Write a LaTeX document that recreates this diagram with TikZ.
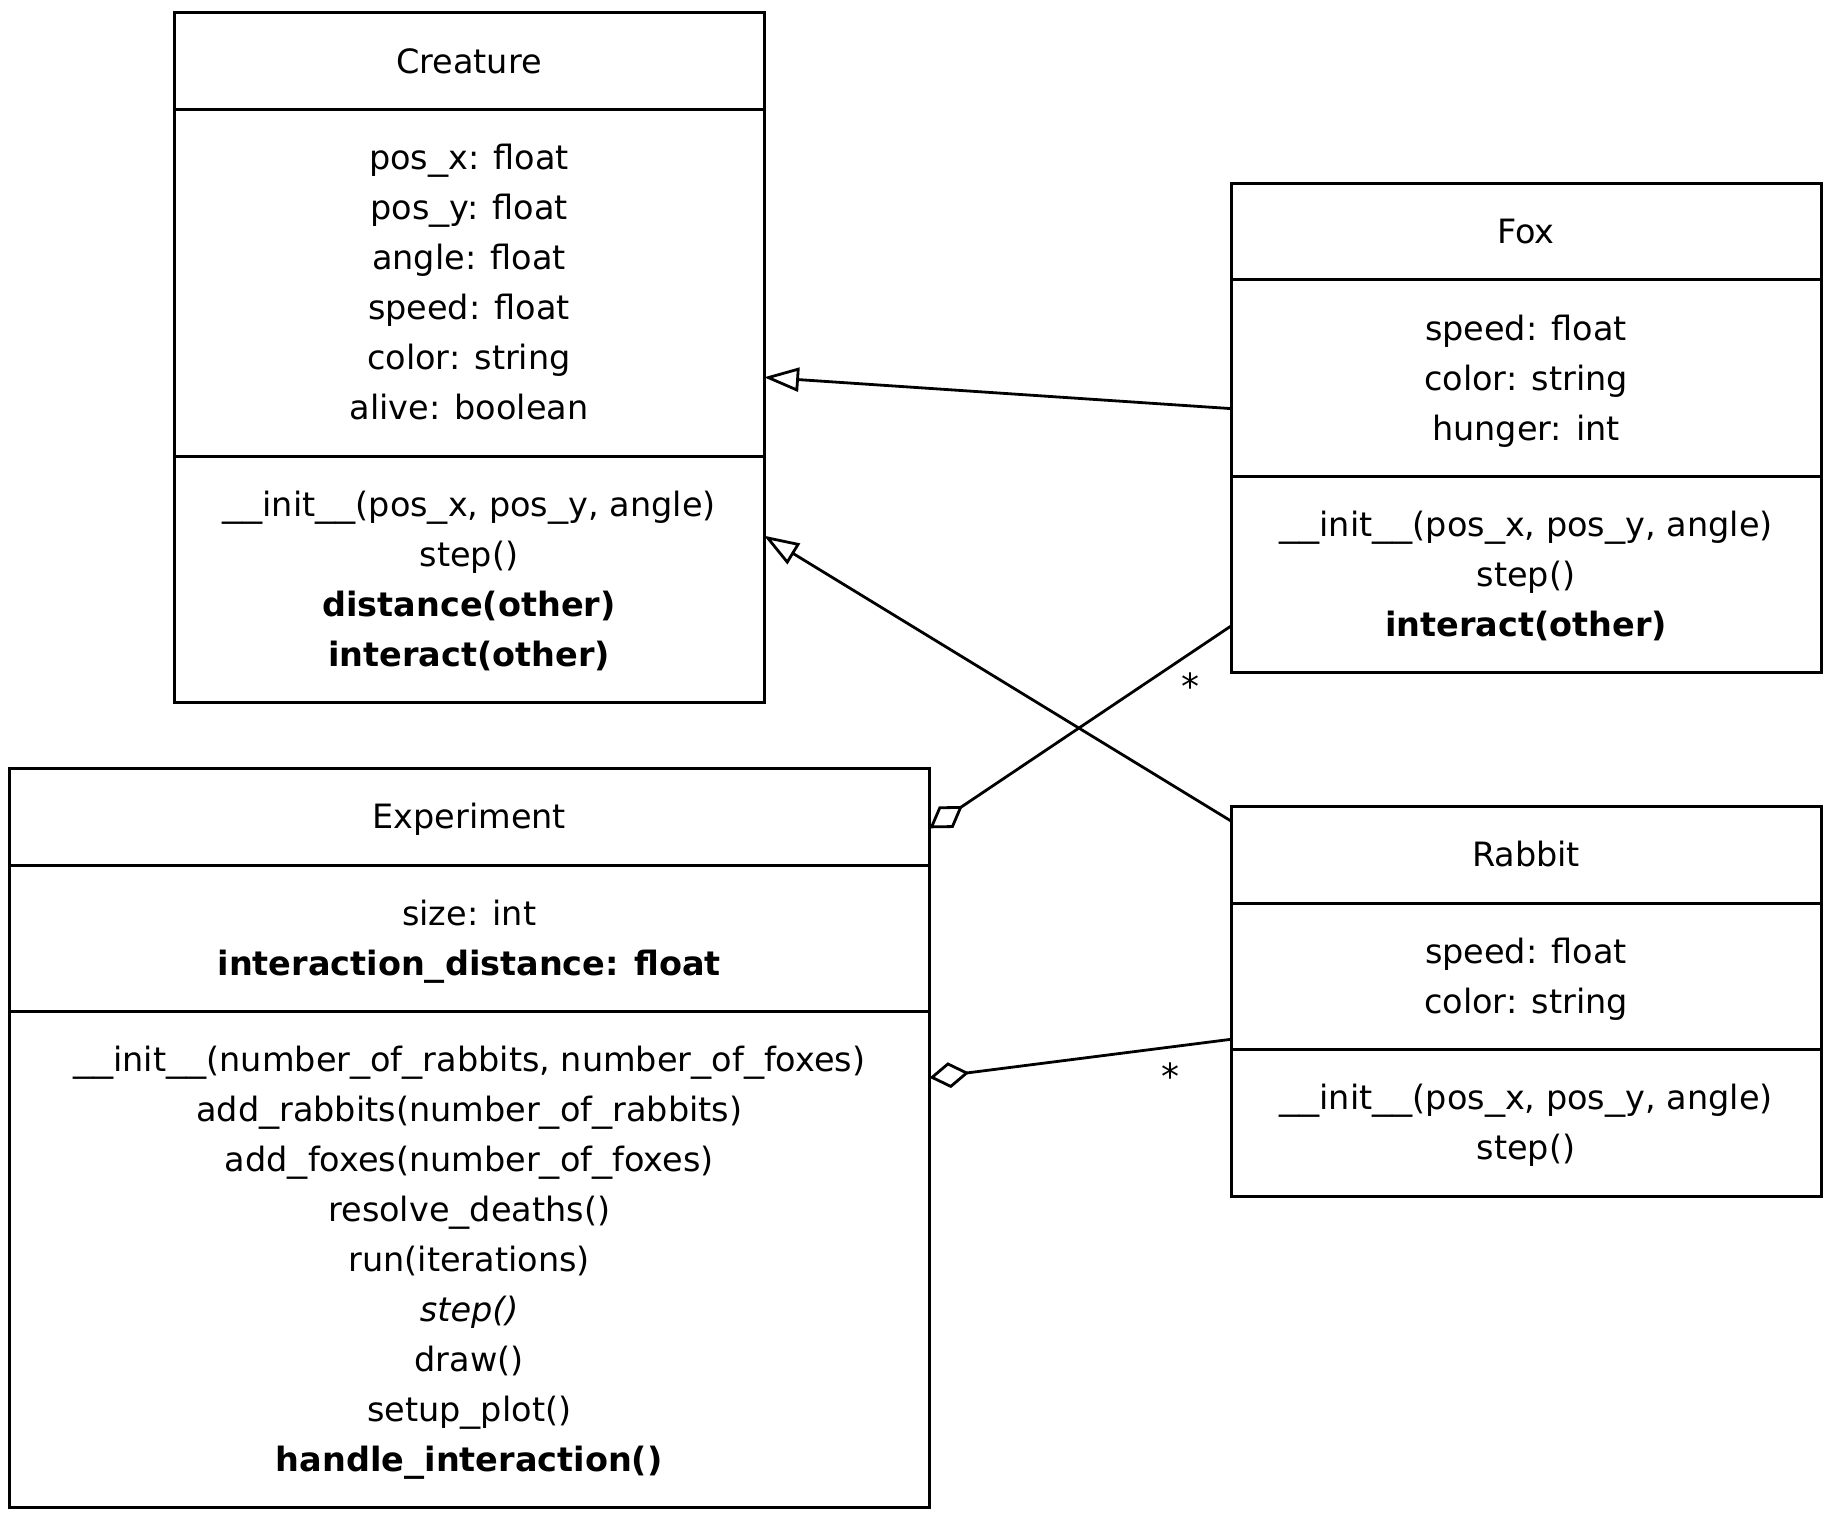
\documentclass[tikz,border=0pt]{standalone}
\usepackage{fontspec}
\usepackage{graphicx}
\setmainfont{DejaVu Sans}
\usetikzlibrary{arrows.meta}
\newcommand\ls{\rule[-6.4pt]{0pt}{25pt}}
\newcommand\us{\scalebox{1.2}[1]{\_}}
\begin{document}
\begin{tikzpicture}[x=0.5pt,y=-0.5pt,
  umlbox/.style={draw=black, line width=1.5pt, fill=white, inner sep=0pt, outer sep=0pt, anchor=north west},
  divider/.style={line width=1.5pt},
  txt/.style={font=\fontsize{16.75pt}{25pt}\selectfont, align=center, inner sep=0pt},
  gen/.style={line width=1.4pt, -{Triangle[length=17.5pt,width=12pt,fill=white]}},
  agg/.style={line width=1.4pt, {Diamond[length=20pt,width=13pt,fill=white]}-},
  mult/.style={font=\fontsize{18pt}{20pt}\selectfont, inner sep=0pt, anchor=base}]
\useasboundingbox (0,0) rectangle (1840,1519);
\fill[white] (0,0) rectangle (1840,1519);

% ---------- Creature ----------
\node[umlbox, minimum width=295pt, minimum height=344.75pt] (creature) at (174,13) {};
\draw[divider] (174,109.5) -- (764,109.5);
\draw[divider] (174,456) -- (764,456);
\node[txt] (creatureName) at (469,61.25) {\ls Creature};
\node[txt] (creatureAttr) at (469,282.75) {\ls pos\us x: float\\\ls pos\us y: float\\\ls angle: float\\\ls speed: float\\\ls color: string\\\ls alive: boolean};
\node[txt] (creatureOps) at (469,579.25) {\ls \us\us init\us\us(pos\us x, pos\us y, angle)\\\ls step()\\\ls \textbf{distance(other)}\\\ls \textbf{interact(other)}};

% ---------- Fox ----------
\node[umlbox, minimum width=295pt, minimum height=244.6pt] (fox) at (1231,183.3) {};
\draw[divider] (1231,279.7) -- (1821,279.7);
\draw[divider] (1231,476.2) -- (1821,476.2);
\node[txt] (foxName) at (1526,231.5) {\ls Fox};
\node[txt] (foxAttr) at (1526,378) {\ls speed: float\\\ls color: string\\\ls hunger: int};
\node[txt] (foxOps) at (1526,574.35) {\ls \us\us init\us\us(pos\us x, pos\us y, angle)\\\ls step()\\\ls \textbf{interact(other)}};

% ---------- Experiment ----------
\node[umlbox, minimum width=460.25pt, minimum height=369.25pt] (experiment) at (9,768.5) {};
\draw[divider] (9,865) -- (929.5,865);
\draw[divider] (9,1011.5) -- (929.5,1011.5);
\node[txt] (experimentName) at (469.25,816.75) {\ls Experiment};
\node[txt] (experimentAttr) at (469.25,938.25) {\ls size: int\\\ls \textbf{interaction\us distance: float}};
\node[txt] (experimentOps) at (469.25,1259.25) {\ls \us\us init\us\us(number\us of\us rabbits, number\us of\us foxes)\\\ls add\us rabbits(number\us of\us rabbits)\\\ls add\us foxes(number\us of\us foxes)\\\ls resolve\us deaths()\\\ls run(iterations)\\\ls \textit{step()}\\\ls draw()\\\ls setup\us plot()\\\ls \textbf{handle\us interaction()}};

% ---------- Rabbit ----------
\node[umlbox, minimum width=295pt, minimum height=194.75pt] (rabbit) at (1231,806.5) {};
\draw[divider] (1231,903) -- (1821,903);
\draw[divider] (1231,1049.5) -- (1821,1049.5);
\node[txt] (rabbitName) at (1526,854.75) {\ls Rabbit};
\node[txt] (rabbitAttr) at (1526,976.25) {\ls speed: float\\\ls color: string};
\node[txt] (rabbitOps) at (1526,1122.75) {\ls \us\us init\us\us(pos\us x, pos\us y, angle)\\\ls step()};

% ---------- connectors ----------
\coordinate (foxGenStart) at (1231,408.6);
\coordinate (creatureGenTipA) at (764,377.3);
\coordinate (rabbitGenStart) at (1231,821);
\coordinate (creatureGenTipB) at (764,535.7);
\coordinate (experimentAggFox) at (929.5,828.3);
\coordinate (foxAggEnd) at (1231,626);
\coordinate (experimentAggRabbit) at (929.5,1077.7);
\coordinate (rabbitAggEnd) at (1231,1039.3);

\draw[gen] (foxGenStart) -- (creatureGenTipA);
\draw[gen] (rabbitGenStart) -- (creatureGenTipB);
\draw[agg] (experimentAggFox) -- (foxAggEnd);
\draw[agg] (experimentAggRabbit) -- (rabbitAggEnd);

\node[mult] (multFox) at (1190.7,699.2) {*};
\node[mult] (multRabbit) at (1170.7,1089.5) {*};
\end{tikzpicture}
\end{document}
